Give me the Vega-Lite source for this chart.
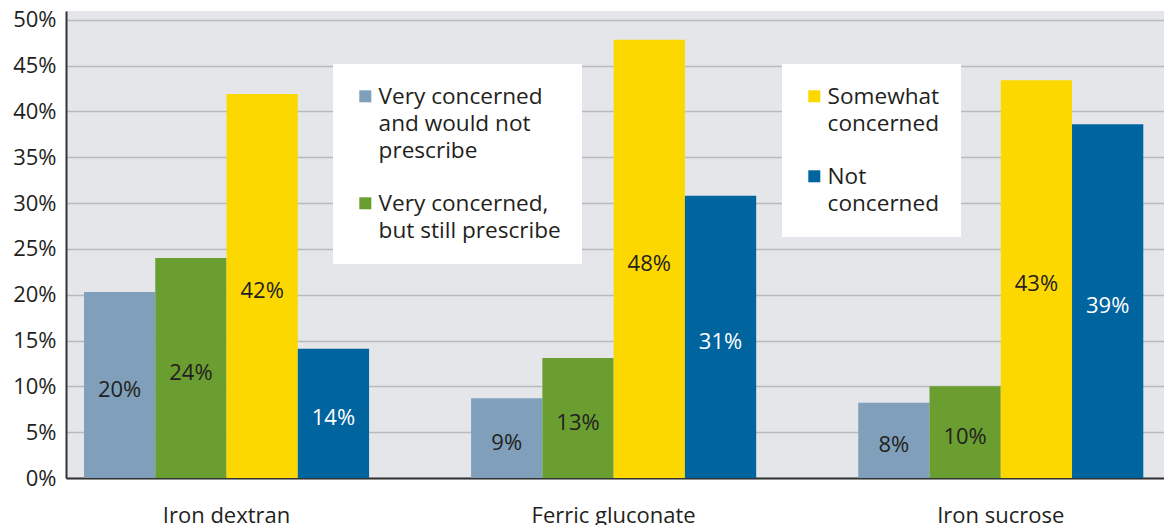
{
  "$schema": "https://vega.github.io/schema/vega-lite/v6.json",
  "width": 1098,
  "height": 467,
  "autosize": "none",
  "padding": {"left": 66, "top": 11, "right": 0, "bottom": 47},
  "background": "white",
  "config": {
    "view": {"fill": "#e5e6e9", "stroke": null},
    "font": "Open Sans",
    "axis": {"labelFont": "Open Sans", "labelFontSize": 22, "labelColor": "#231f20", "title": null},
    "legend": {
      "orient": "none",
      "fillColor": "white",
      "padding": 21,
      "symbolType": "square",
      "symbolSize": 144,
      "symbolStrokeWidth": 0,
      "labelFont": "Open Sans",
      "labelFontSize": 22.6,
      "labelColor": "#231f20",
      "labelOffset": 2,
      "labelBaseline": "top",
      "labelLimit": 400,
      "rowPadding": 29,
      "title": null
    }
  },
  "data": {
    "values": [
      {"drug": "Iron dextran", "series": "Very concerned and would not prescribe", "value": 20.3, "label": "20%"},
      {"drug": "Iron dextran", "series": "Very concerned, but still prescribe", "value": 24.0, "label": "24%"},
      {"drug": "Iron dextran", "series": "Somewhat concerned", "value": 41.9, "label": "42%"},
      {"drug": "Iron dextran", "series": "Not concerned", "value": 14.1, "label": "14%"},
      {"drug": "Ferric gluconate", "series": "Very concerned and would not prescribe", "value": 8.7, "label": "9%"},
      {"drug": "Ferric gluconate", "series": "Very concerned, but still prescribe", "value": 13.1, "label": "13%"},
      {"drug": "Ferric gluconate", "series": "Somewhat concerned", "value": 47.8, "label": "48%"},
      {"drug": "Ferric gluconate", "series": "Not concerned", "value": 30.8, "label": "31%"},
      {"drug": "Iron sucrose", "series": "Very concerned and would not prescribe", "value": 8.2, "label": "8%"},
      {"drug": "Iron sucrose", "series": "Very concerned, but still prescribe", "value": 10.0, "label": "10%"},
      {"drug": "Iron sucrose", "series": "Somewhat concerned", "value": 43.4, "label": "43%"},
      {"drug": "Iron sucrose", "series": "Not concerned", "value": 38.6, "label": "39%"}
    ]
  },
  "encoding": {
    "x": {
      "field": "drug", "type": "nominal", "sort": null,
      "scale": {"paddingInner": 0.2636, "paddingOuter": 0.05, "align": 0.465},
      "axis": {"labelAngle": 0, "ticks": false, "domainColor": "#333333", "domainWidth": 2, "labelPadding": 27, "grid": false}
    },
    "xOffset": {
      "field": "series", "type": "nominal",
      "scale": {"domain": ["Very concerned and would not prescribe", "Very concerned, but still prescribe", "Somewhat concerned", "Not concerned"], "paddingInner": 0, "paddingOuter": 0}
    }
  },
  "layer": [
    {
      "transform": [{"filter": {"field": "series", "oneOf": ["Very concerned and would not prescribe", "Very concerned, but still prescribe"]}}],
      "mark": {"type": "bar"},
      "encoding": {
        "y": {
          "field": "value", "type": "quantitative",
          "scale": {"domain": [0, 50.95], "nice": false, "zero": true},
          "axis": {"values": [0, 5, 10, 15, 20, 25, 30, 35, 40, 45, 50], "labelExpr": "datum.value + '%'", "ticks": false, "domainColor": "#333333", "domainWidth": 2, "gridColor": "#b9babd", "gridWidth": 1.5, "labelPadding": 10}
        },
        "color": {
          "field": "series", "type": "nominal",
          "scale": {"domain": ["Very concerned and would not prescribe", "Very concerned, but still prescribe"], "range": ["#7f9fba", "#6a9e31"]},
          "legend": {
            "legendX": 267, "legendY": 53,
            "labelExpr": "datum.label == 'Very concerned and would not prescribe' ? ['Very concerned', 'and would not', 'prescribe'] : ['Very concerned,', 'but still prescribe\u00a0\u00a0']",
            "encoding": {"labels": {"lineHeight": {"value": 27}, "dy": {"value": -10}}}
          }
        }
      }
    },
    {
      "transform": [{"filter": {"field": "series", "oneOf": ["Somewhat concerned", "Not concerned"]}}],
      "mark": {"type": "bar"},
      "encoding": {
        "y": {"field": "value", "type": "quantitative", "scale": {"domain": [0, 50.95], "nice": false, "zero": true}, "axis": null},
        "color": {
          "field": "series", "type": "nominal",
          "scale": {"domain": ["Somewhat concerned", "Not concerned"], "range": ["#fdd700", "#00649e"]},
          "legend": {
            "legendX": 716, "legendY": 53,
            "labelExpr": "datum.label == 'Somewhat concerned' ? ['Somewhat\u00a0\u00a0\u00a0\u00a0', 'concerned'] : ['Not', 'concerned']",
            "encoding": {"labels": {"lineHeight": {"value": 27}, "dy": {"value": -10}}}
          }
        }
      }
    },
    {
      "mark": {"type": "text", "fontSize": 22, "font": "Open Sans", "baseline": "middle", "dy": 5},
      "encoding": {
        "y": {"field": "value", "type": "quantitative", "scale": {"domain": [0, 101.9], "nice": false, "zero": true}, "axis": null},
        "text": {"field": "label"},
        "color": {"condition": {"test": "datum.series === 'Not concerned'", "value": "white"}, "value": "#231f20"}
      }
    }
  ],
  "resolve": {"scale": {"color": "independent", "y": "independent"}, "legend": {"color": "independent"}}
}
